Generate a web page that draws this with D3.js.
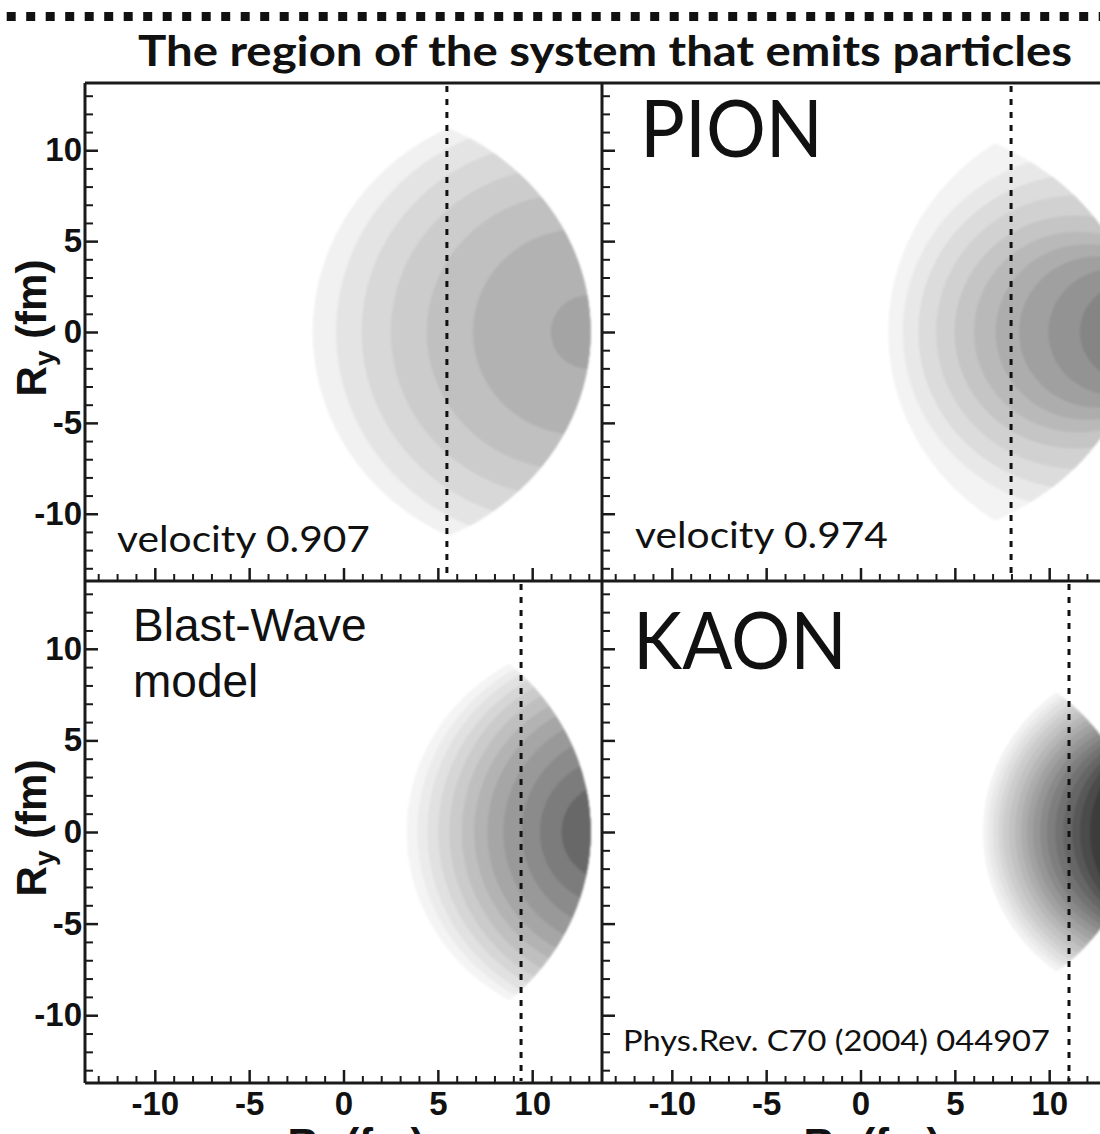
<!DOCTYPE html>
<html>
<head>
<meta charset="utf-8">
<script src="https://cdn.jsdelivr.net/npm/d3@7"></script>
<style>
  body { margin: 0; background: #ffffff; }
  svg { display: block; }
</style>
</head>
<body>
<svg id="fig" width="1100" height="1134"></svg>
<script>
// ---- axis ticks (fm) ----
const majorTicks = [-10, -5, 0, 5, 10];
const minorTicks = [-13, -12, -11, -9, -8, -7, -6, -4, -3, -2, -1, 1, 2, 3, 4, 6, 7, 8, 9, 11, 12, 13];
const axisExtent = 13.7;

// ---- emission-density bands: left edge on R_y = 0 and half-height where the band meets the rim (fm) ----
// pion, pair velocity 0.907
const pionV907Edge  = [-1.63, -0.40, 0.96, 2.50, 4.41, 6.85, 10.98];
const pionV907Tip   = [11.22, 10.67, 9.85, 8.75, 7.43, 5.61, 2.04];
const pionV907Shade = ['#f1f1f1', '#e4e4e4', '#d8d8d8', '#cccccc', '#c0c0c0', '#b2b2b2', '#a4a4a4'];
// pion, pair velocity 0.974
const pionV974Edge  = [1.47, 2.24, 3.06, 4.00, 4.98, 6.01, 7.15, 8.40, 9.95, 11.63];
const pionV974Tip   = [10.38, 9.37, 8.54, 7.54, 6.34, 5.30, 4.60, 4.00, 3.40, 2.70];
const pionV974Shade = ['#f3f3f3', '#e8e8e8', '#dcdcdc', '#d1d1d1', '#c5c5c5', '#b9b9b9', '#adadad', '#a0a0a0', '#939393', '#858585'];
// kaon, pair velocity 0.907
const kaonV907Edge  = [3.35, 3.91, 4.44, 5.02, 5.61, 6.26, 6.92, 7.62, 8.47, 9.44, 10.41, 11.56];
const kaonV907Tip   = [9.19, 8.91, 8.64, 8.27, 7.90, 7.44, 6.89, 6.34, 5.61, 4.69, 3.59, 2.31];
const kaonV907Shade = ['#f4f4f4', '#ebebeb', '#e1e1e1', '#d6d6d6', '#cbcbcb', '#bfbfbf', '#b3b3b3', '#a6a6a6', '#999999', '#8b8b8b', '#7b7b7b', '#686868'];
// kaon, pair velocity 0.974
const kaonV974Edge  = [6.49, 6.76, 7.02, 7.29, 7.55, 7.87, 8.19, 8.51, 8.82, 9.14, 9.51, 9.88, 10.31, 10.73, 11.21, 11.63, 12.16];
const kaonV974Tip   = [7.63, 7.42, 7.26, 7.03, 6.84, 6.62, 6.37, 6.12, 5.88, 5.61, 5.37, 5.09, 4.86, 4.58, 4.33, 4.07, 3.80];
const kaonV974Shade = ['#f2f2f2', '#e9e9e9', '#e0e0e0', '#d6d6d6', '#cccccc', '#c2c2c2', '#b7b7b7', '#acacac', '#a1a1a1', '#969696', '#8a8a8a', '#7e7e7e', '#727272', '#666666', '#595959', '#4c4c4c', '#3e3e3e'];

// outer rim of the emitting source, semi-axes [R_x, R_y] (fm)
const pionV907Rim = [13.1, 12.4];
const pionV974Rim = [14.6, 11.9];
const kaonV907Rim = [13.1, 12.4];
const kaonV974Rim = [14.5, 10.95];

// mean emission position along R_x (dotted lines), fm
const meanEmissionRx = [5.48, 7.98, 9.41, 11.05];

// ---- layout ----
const colX = [[85, 602], [602, 1119]];
const rowY = [[83, 581], [581, 1083]];

const panels = [
  { row: 0, col: 0, edge: pionV907Edge, tip: pionV907Tip, shade: pionV907Shade, rim: pionV907Rim, mean: meanEmissionRx[0] },
  { row: 0, col: 1, edge: pionV974Edge, tip: pionV974Tip, shade: pionV974Shade, rim: pionV974Rim, mean: meanEmissionRx[1] },
  { row: 1, col: 0, edge: kaonV907Edge, tip: kaonV907Tip, shade: kaonV907Shade, rim: kaonV907Rim, mean: meanEmissionRx[2] },
  { row: 1, col: 1, edge: kaonV974Edge, tip: kaonV974Tip, shade: kaonV974Shade, rim: kaonV974Rim, mean: meanEmissionRx[3] }
];

const svg = d3.select('#fig');
const defs = svg.append('defs');
defs.append('filter').attr('id', 'soft')
  .attr('x', '-10%').attr('y', '-10%').attr('width', '120%').attr('height', '120%')
  .append('feGaussianBlur').attr('stdDeviation', 1);

const tickFont = '"Liberation Sans", Arial, sans-serif';
const textFont = 'Lato, "Open Sans", sans-serif';

// dotted rule across the top
svg.append('line')
  .attr('x1', 6.7).attr('x2', 1100).attr('y1', 16.5).attr('y2', 16.5)
  .attr('stroke', '#111').attr('stroke-width', 9).attr('stroke-dasharray', '9 10.5');

// title
svg.append('text')
  .attr('x', 605).attr('y', 66).attr('text-anchor', 'middle')
  .attr('font-family', textFont).attr('font-weight', 700).attr('font-size', 42)
  .attr('textLength', 934).attr('lengthAdjust', 'spacingAndGlyphs')
  .attr('fill', '#111')
  .text('The region of the system that emits particles');

panels.forEach((p, i) => {
  const x = d3.scaleLinear().domain([-axisExtent, axisExtent]).range(colX[p.col]);
  const y = d3.scaleLinear().domain([-axisExtent, axisExtent]).range([rowY[p.row][1], rowY[p.row][0]]);
  const kx = x(1) - x(0), ky = y(0) - y(1);

  defs.append('clipPath').attr('id', 'panel' + i)
    .append('rect')
    .attr('x', colX[p.col][0]).attr('y', rowY[p.row][0])
    .attr('width', colX[p.col][1] - colX[p.col][0]).attr('height', rowY[p.row][1] - rowY[p.row][0]);
  defs.append('clipPath').attr('id', 'rim' + i)
    .append('ellipse')
    .attr('cx', x(0)).attr('cy', y(0))
    .attr('rx', p.rim[0] * kx).attr('ry', p.rim[1] * ky);

  // each band: circle through its left edge and the two rim points, cut by the rim
  const bands = p.edge.map((e, k) => {
    const t = p.tip[k];
    const tx = p.rim[0] * Math.sqrt(1 - (t / p.rim[1]) ** 2);
    const c = (tx * tx + t * t - e * e) / (2 * (tx - e));
    return { cx: c, r: c - e, shade: p.shade[k] };
  });

  const g = svg.append('g').attr('clip-path', `url(#panel${i})`);
  g.append('g').attr('filter', 'url(#soft)')
    .append('g').attr('clip-path', `url(#rim${i})`)
    .selectAll('ellipse').data(bands).join('ellipse')
    .attr('cx', d => x(d.cx)).attr('cy', y(0))
    .attr('rx', d => d.r * kx).attr('ry', d => d.r * ky)
    .attr('fill', d => d.shade);

  // mean emission position
  g.append('line')
    .attr('x1', x(p.mean)).attr('x2', x(p.mean))
    .attr('y1', rowY[p.row][0] + 3).attr('y2', rowY[p.row][1] - 2)
    .attr('stroke', '#111').attr('stroke-width', 3).attr('stroke-dasharray', '6 7');

  // axes: ticks point inward, labels only on the outer edges
  const styleAxis = (sel, width) => {
    sel.select('.domain').remove();
    sel.selectAll('.tick line').attr('stroke', '#1a1a1a').attr('stroke-width', width);
    sel.selectAll('.tick text')
      .attr('font-family', tickFont).attr('font-weight', 700).attr('font-size', 33).attr('fill', '#111');
  };
  const fmt = d => String(d);

  g.append('g').attr('transform', `translate(${colX[p.col][0]},0)`)
    .call(d3.axisLeft(y).tickValues(minorTicks).tickSize(-8).tickFormat(''))
    .call(s => styleAxis(s, 2));
  svg.append('g').attr('transform', `translate(${colX[p.col][0]},0)`)
    .call(d3.axisLeft(y).tickValues(majorTicks).tickSize(-13).tickPadding(3)
      .tickFormat(p.col === 0 ? fmt : () => ''))
    .call(s => styleAxis(s, 2.5));

  g.append('g').attr('transform', `translate(0,${rowY[p.row][1]})`)
    .call(d3.axisBottom(x).tickValues(minorTicks).tickSize(-7).tickFormat(''))
    .call(s => styleAxis(s, 2));
  svg.append('g').attr('transform', `translate(0,${rowY[p.row][1]})`)
    .call(d3.axisBottom(x).tickValues(majorTicks).tickSize(-13).tickPadding(9)
      .tickFormat(p.row === 1 ? fmt : () => ''))
    .call(s => styleAxis(s, 2.5));
});

// panel frames
const frame = svg.append('g').attr('stroke', '#1a1a1a').attr('stroke-width', 3).attr('fill', 'none');
[[85, 83, 1100, 83], [85, 581, 1100, 581], [85, 1083, 1100, 1083], [85, 83, 85, 1083], [602, 83, 602, 1083]]
  .forEach(l => frame.append('line').attr('x1', l[0]).attr('y1', l[1]).attr('x2', l[2]).attr('y2', l[3]));

// axis titles
const yTitle = cy => {
  const t = svg.append('text')
    .attr('transform', `translate(46,${cy}) rotate(-90)`)
    .attr('text-anchor', 'middle')
    .attr('font-family', tickFont).attr('font-weight', 700).attr('font-size', 42).attr('fill', '#111');
  t.append('tspan').text('R');
  t.append('tspan').attr('font-size', 28).attr('dy', 8).text('y');
  t.append('tspan').attr('dy', -8).text(' (fm)');
};
yTitle(328);
yTitle(828);

const xTitle = cx => {
  const t = svg.append('text')
    .attr('x', cx).attr('y', 1158)
    .attr('text-anchor', 'middle')
    .attr('font-family', tickFont).attr('font-weight', 700).attr('font-size', 42).attr('fill', '#111');
  t.append('tspan').text('R');
  t.append('tspan').attr('font-size', 28).attr('dy', 8).text('x');
  t.append('tspan').attr('dy', -8).text(' (fm)');
};
xTitle(356);
xTitle(872);

// panel annotations
const note = (str, xx, yy, size, len, family) => svg.append('text')
  .attr('x', xx).attr('y', yy)
  .attr('font-family', family || textFont).attr('font-size', size).attr('fill', '#111')
  .attr('textLength', len).attr('lengthAdjust', 'spacingAndGlyphs')
  .text(str);

note('PION', 640, 157, 79, 183);
note('KAON', 633, 669, 79, 214);
note('velocity 0.907', 117, 552, 36, 253);
note('velocity 0.974', 635, 548, 36, 253);
note('Phys.Rev. C70 (2004) 044907', 623, 1051, 29, 427);

svg.append('text')
  .attr('font-family', tickFont).attr('font-size', 46).attr('fill', '#111')
  .selectAll('tspan').data(['Blast-Wave', 'model']).join('tspan')
  .attr('x', 133).attr('y', (d, k) => 641 + k * 56)
  .text(d => d);
</script>
</body>
</html>
